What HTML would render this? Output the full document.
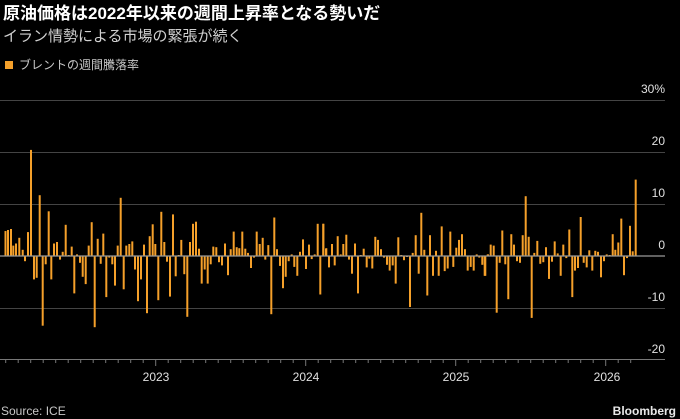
<!DOCTYPE html>
<html><head><meta charset="utf-8"><style>
html,body{margin:0;padding:0;background:#000;width:680px;height:419px;overflow:hidden}
svg{display:block}
text{font-family:"Liberation Sans","Noto Sans CJK JP",sans-serif}
</style></head><body>
<svg id="s" width="680" height="419" xmlns="http://www.w3.org/2000/svg">
<rect width="680" height="419" fill="#000"/>
<text x="3" y="19" fill="#fff" font-size="17" font-weight="bold">原油価格は2022年以来の週間上昇率となる勢いだ</text>
<text x="3" y="41" fill="#d0d0d0" font-size="15">イラン情勢による市場の緊張が続く</text>
<rect x="5" y="61" width="8" height="8" fill="#f5a02a"/>
<text x="19" y="69" fill="#c8c8c8" font-size="12">ブレントの週間騰落率</text>
<g id="grid" stroke="#444" stroke-width="1">
<line x1="0" x2="665" y1="100.5" y2="100.5"/>
<line x1="0" x2="665" y1="152.5" y2="152.5"/>
<line x1="0" x2="665" y1="204.5" y2="204.5"/>
<line x1="0" x2="665" y1="308.5" y2="308.5"/>
</g>
<g fill="#e0e0e0" font-size="12" text-anchor="end">
<text x="665" y="93">30%</text>
<text x="665" y="145">20</text>
<text x="665" y="197">10</text>
<text x="665" y="249">0</text>
<text x="665" y="301">-10</text>
<text x="665" y="353">-20</text>
</g>
<g id="bars" fill="#f5a02a"></g>
<line x1="0" x2="665" y1="256" y2="256" stroke="#999" stroke-width="1.2"/>
<line x1="0" x2="665" y1="359.5" y2="359.5" stroke="#777" stroke-width="1"/>
<g id="ticks" stroke="#777" stroke-width="1"></g>
<g fill="#e0e0e0" font-size="12" text-anchor="middle">
<text x="156" y="381">2023</text>
<text x="306" y="381">2024</text>
<text x="456" y="381">2025</text>
<text x="607" y="381">2026</text>
</g>
<text x="1" y="415" fill="#c8c8c8" font-size="12">Source: ICE</text>
<text x="676" y="415" fill="#e8e8e8" font-size="12" font-weight="bold" text-anchor="end">Bloomberg</text>
</svg>
<script>
var segs=[
[0,[[24,5],[33,5.2],[40,2],[48,2.4],[58,3.5],[68,1.2],[75,-1],[84,4.6],[93,20.4],[102,-4.5],[110,-4.2],[119,11.7],[128,-13.4],[137,-1.6],[146,8.6],[154,-4.5],[162,2.4],[171,2.7],[180,-0.7],[188,0.8],[197,6],[206,0.2],[215,1.8],[223,-7.2],[231,0.3],[240,-1.3],[248,-4],[257,-5.4],[266,2],[275,6.5],[284,-13.7],[293,3.3],[302,-1.5],[310,4.3],[319,-7.9],[328,-0.3],[337,-1.6],[345,-5.7],[353,2],[362,11.2],[371,-6.4],[379,2],[388,2.3],[397,2.8],[405,-2.6],[414,-8.7],[423,-4.5],[432,2.2],[441,-11],[449,3.8],[458,6.1],[466,2.3],[475,-8.5],[484,8.5],[493,2.7],[501,-1.1]]],
[160,[[30,-7.8],[39,8],[47,-3.9],[56,0.2],[64,3.1],[73,-3.5],[82,-11.7],[90,2.7],[99,6.2],[108,6.6],[117,1.4],[125,-5.3],[134,-2.6],[143,-5.3],[152,-1.6],[160,1.8],[169,1.7],[177,-1.2],[186,-1.8],[195,2.4],[204,-3.7],[212,1.3],[221,4.7],[230,1.7],[238,1.5],[247,4.7],[256,1.4],[264,0.6],[273,-2.3],[282,-0.3],[290,4.7],[299,2.3],[308,3.5],[316,-0.7],[325,2.1],[334,-11.2],[343,7.4],[351,1.3],[360,-1.9],[369,-6.2],[377,-4],[386,-1],[395,0.3],[403,-2.1],[412,-3.8],[420,0.8],[429,3.2],[438,-2.5],[447,2.2],[455,-0.6],[464,0.3],[473,6.2],[481,-7.4],[490,6.2],[499,1.5],[507,-2.2]]],
[320,[[10,6.2+0],[18,1.4],[27,-2.1],[36,2.3],[44,-1.8],[53,3.8],[62,0.3],[70,2.3],[79,4.1],[87,-0.7],[96,-3.4],[105,2.4],[114,-7.2],[122,0.2],[131,1.4],[140,-2.2],[148,-0.5],[157,-2.4],[166,3.7],[174,3.1],[183,1.3],[192,-0.3],[201,-1.7],[209,-2.8],[218,-1.8],[227,-5.3],[235,3.6],[244,0.2],[252,-0.8],[261,-0.2],[270,-9.8],[278,0.6],[287,4],[296,-3.4],[304,8.3],[313,1.2],[322,-7.6],[330,4],[339,-3.8],[348,1],[356,-3.8],[365,5.7],[374,-2.9],[383,-2.4],[391,4.7],[400,-2.1],[409,1.6],[417,3.1],[426,4.2],[435,1.3],[443,-2.8],[452,-2.1],[461,-2.8],[470,0.3],[478,-0.3],[487,-1.7],[496,-3.8],[504,0.3]]],
[480,[[14,-3.8],[23,0.3],[32,2.2],[41,2],[50,-10.9],[59,-1.3],[67,4.9],[76,-1.6],[85,-8.3],[94,4.2],[102,2.2],[111,-1],[120,-1.3],[128,4],[137,11.5],[146,3.7],[155,-11.9],[163,0.6],[172,2.9],[181,-1.5],[190,-1.2],[198,1.7],[207,-4.4],[216,-1.1],[224,2.8],[233,0.5],[242,-3.8],[250,2.2],[259,-0.4],[268,5.1],[277,-7.9],[285,-2.8],[294,-2.3],[302,7.5],[311,-1.3],[320,-2.2],[328,1.1],[337,-2.8],[346,1],[354,0.8],[363,-4.1],[372,-1],[380,0.3],[389,0.2],[398,4.2],[406,1.2],[415,2.6],[424,7.2],[432,-3.7],[441,-0.4],[450,5.8],[458,0.9],[467,14.7]]]
];
var g=document.getElementById('bars'),h='';
segs.forEach(function(s){s[1].forEach(function(b){
 var x=s[0]+b[0]/3-1, v=b[1]*5.2, y=v>0?256-v:256, hh=Math.abs(v);
 h+='<rect x="'+x.toFixed(1)+'" y="'+y.toFixed(1)+'" width="2" height="'+Math.max(hh,0.6).toFixed(1)+'"/>';
});});
// prepend early bars near x=5
h+='<rect x="4.5" y="'+(256-4.8*5.2)+'" width="2" height="'+(4.8*5.2)+'"/>';
g.innerHTML=h;
var t='',tk=document.getElementById('ticks');
for(var m=0;m<52;m++){var x=5.7+m*12.5; if(x>640)break; var yr=(m%12==0&&m>0);
 t+='<line x1="'+x.toFixed(1)+'" x2="'+x.toFixed(1)+'" y1="359.5" y2="'+(yr?366:363)+'"/>';}
tk.innerHTML=t;
</script>
</body></html>
